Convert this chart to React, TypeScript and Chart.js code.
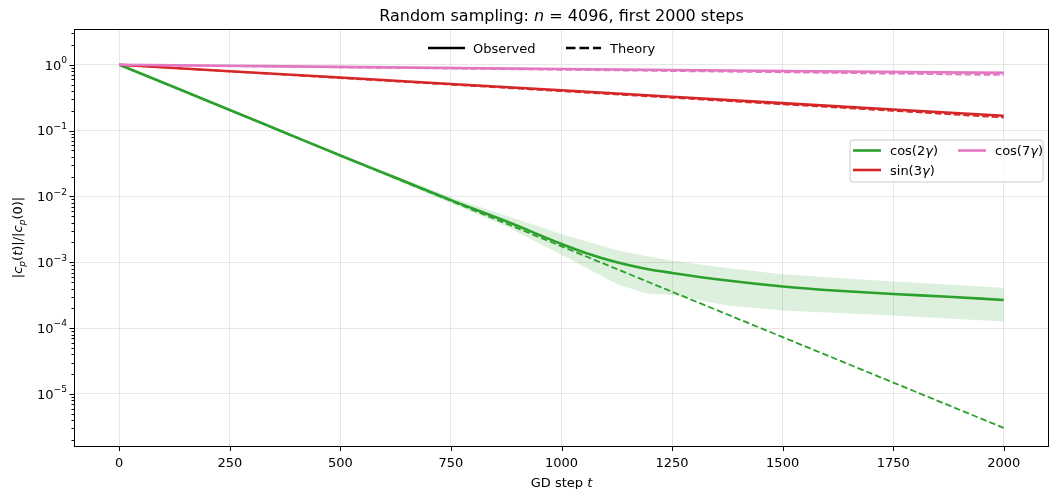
import React, { useEffect, useRef } from "react";
import { Chart, registerables } from "chart.js";

Chart.register(...registerables);

const FONT = '"DejaVu Sans", "Liberation Sans", sans-serif';
const GREEN = "#2ca02c";
const RED = "#d62728";
const PINK = "#e377c2";
const GRID = "rgba(176,176,176,0.3)";

// ---- data ----
const xTickValues = [0, 250, 500, 750, 1000, 1250, 1500, 1750, 2000];
const yDecadeExponents = [-5, -4, -3, -2, -1, 0];

const greenObsSteps = [0, 125, 250, 375, 500, 625, 750, 875, 1000, 1060, 1125, 1190, 1250, 1375, 1500, 1625, 1750, 1875, 2000];
const greenObsValues = [1, 0.455, 0.206, 0.093, 0.042, 0.0192, 0.0088, 0.0042, 0.0019, 0.00135, 0.001, 0.0008, 0.00069, 0.00053, 0.00043, 0.00037, 0.00033, 0.0003, 0.000267];

const greenBandSteps = [0, 250, 500, 750, 875, 1000, 1125, 1190, 1250, 1375, 1500, 1750, 2000];
const greenBandUpper = [1.0, 0.212, 0.044, 0.0097, 0.0051, 0.0027, 0.00152, 0.00125, 0.00106, 0.00082, 0.00066, 0.00051, 0.00041];
const greenBandLower = [1.0, 0.2, 0.04, 0.0079, 0.0035, 0.0013, 0.00047, 0.00034, 0.00032, 0.00022, 0.000186, 0.000155, 0.000126];

const greenTheorySteps = [0, 250, 500, 750, 1000, 1250, 1500, 1750, 2000];
const greenTheoryValues = [1, 0.2046, 0.0418, 0.00855, 0.00175, 0.000357, 0.000073, 0.0000149, 0.00000305];

const redSteps = [0, 250, 500, 750, 1000, 1250, 1500, 1750, 2000];
const redObsValues = [1, 0.8, 0.64, 0.51, 0.41, 0.328, 0.262, 0.21, 0.168];
const redTheoryValues = [1, 0.795, 0.63, 0.5, 0.398, 0.316, 0.251, 0.2, 0.158];

const pinkSteps = [0, 500, 1000, 1500, 2000];
const pinkObsValues = [1, 0.93, 0.865, 0.805, 0.755];
const pinkBandUpper = [1.0, 0.955, 0.895, 0.835, 0.785];
const pinkBandLower = [1.0, 0.905, 0.835, 0.775, 0.725];
const pinkTheoryValues = [1, 0.915, 0.84, 0.77, 0.7];

const modeLegend = [
  { label: ["cos(2", "γ", ")"], color: GREEN },
  { label: ["sin(3", "γ", ")"], color: RED },
  { label: ["cos(7", "γ", ")"], color: PINK },
];

// ---- helpers ----
const pts = (xs: number[], ys: number[]) => xs.map((x, i) => ({ x, y: ys[i] }));

type Seg = { t: string; it?: boolean; sub?: boolean; sup?: boolean };

function segFont(s: Seg, size: number) {
  const fs = s.sub || s.sup ? size * 0.7 : size;
  return `${s.it ? "italic " : ""}${fs}px ${FONT}`;
}

function drawRich(ctx: CanvasRenderingContext2D, segs: Seg[], x: number, y: number, size: number, align: "left" | "center" | "right") {
  let w = 0;
  for (const s of segs) {
    ctx.font = segFont(s, size);
    w += ctx.measureText(s.t).width;
  }
  let cx = align === "left" ? x : align === "center" ? x - w / 2 : x - w;
  ctx.textAlign = "left";
  ctx.textBaseline = "alphabetic";
  for (const s of segs) {
    ctx.font = segFont(s, size);
    const dy = s.sub ? size * 0.22 : s.sup ? -size * 0.5 : 0;
    ctx.fillText(s.t, cx, y + dy);
    cx += ctx.measureText(s.t).width;
  }
}

const isDecade = (v: number) => Math.abs(Math.log10(v) - Math.round(Math.log10(v))) < 1e-9;

const overlayPlugin = {
  id: "overlay",
  afterDraw(chart: any) {
    const { ctx, chartArea: a, scales } = chart;
    const xs = scales.x;
    const ys = scales.y;
    ctx.save();
    ctx.fillStyle = "#000";
    ctx.strokeStyle = "#000";

    // spines
    ctx.lineWidth = 1;
    ctx.strokeRect(a.left - 0.5, a.top + 0.5, a.right - a.left + 1, a.bottom - a.top);

    // x tick marks
    for (const v of xTickValues) {
      const px = Math.round(xs.getPixelForValue(v)) + 0.5;
      ctx.beginPath();
      ctx.moveTo(px, a.bottom + 0.5);
      ctx.lineTo(px, a.bottom + 5);
      ctx.stroke();
    }
    // y tick marks
    for (const t of ys.ticks) {
      const py = Math.round(ys.getPixelForValue(t.value)) + 0.5;
      const len = isDecade(t.value) ? 5 : 3;
      ctx.beginPath();
      ctx.moveTo(a.left - 0.5, py);
      ctx.lineTo(a.left - 0.5 - len, py);
      ctx.stroke();
    }
    // y tick labels
    ctx.fillStyle = "#000";
    for (const e of yDecadeExponents) {
      const py = ys.getPixelForValue(Math.pow(10, e));
      const sup = e === 0 ? "0" : "\u2212" + Math.abs(e);
      drawRich(ctx, [{ t: "10" }, { t: sup, sup: true }], a.left - 8, py + 4.7, 13, "right");
    }

    const cxp = (a.left + a.right) / 2;
    // title
    drawRich(ctx, [{ t: "Random sampling: " }, { t: "n", it: true }, { t: " = 4096, first 2000 steps" }], cxp, 21, 16, "center");
    // x label
    drawRich(ctx, [{ t: "GD step " }, { t: "t", it: true }], cxp, 487, 13, "center");
    // y label
    ctx.save();
    ctx.translate(22, (a.top + a.bottom) / 2);
    ctx.rotate(-Math.PI / 2);
    drawRich(
      ctx,
      [
        { t: "|" }, { t: "c", it: true }, { t: "p", it: true, sub: true }, { t: "(" }, { t: "t", it: true }, { t: ")|/|" },
        { t: "c", it: true }, { t: "p", it: true, sub: true }, { t: "(0)|" },
      ],
      0, 0, 13, "center"
    );
    ctx.restore();

    // top legend (line styles)
    ctx.lineCap = "butt";
    ctx.strokeStyle = "#000";
    ctx.lineWidth = 2.6;
    ctx.setLineDash([]);
    ctx.beginPath();
    ctx.moveTo(428, 48);
    ctx.lineTo(465, 48);
    ctx.stroke();
    drawRich(ctx, [{ t: "Observed" }], 473, 53, 13, "left");
    ctx.setLineDash([9.5, 4]);
    ctx.beginPath();
    ctx.moveTo(566, 48);
    ctx.lineTo(601, 48);
    ctx.stroke();
    ctx.setLineDash([]);
    drawRich(ctx, [{ t: "Theory" }], 610, 53, 13, "left");

    // right legend (modes)
    const bx = 850, by = 140, bw = 193, bh = 42, r = 3;
    ctx.beginPath();
    ctx.moveTo(bx + r, by);
    ctx.arcTo(bx + bw, by, bx + bw, by + bh, r);
    ctx.arcTo(bx + bw, by + bh, bx, by + bh, r);
    ctx.arcTo(bx, by + bh, bx, by, r);
    ctx.arcTo(bx, by, bx + bw, by, r);
    ctx.closePath();
    ctx.fillStyle = "rgba(255,255,255,0.8)";
    ctx.fill();
    ctx.strokeStyle = "#cccccc";
    ctx.lineWidth = 1;
    ctx.stroke();
    const entries = [
      { m: modeLegend[0], x: 853, y: 150.5 },
      { m: modeLegend[1], x: 853, y: 170 },
      { m: modeLegend[2], x: 958, y: 150.5 },
    ];
    for (const en of entries) {
      ctx.strokeStyle = en.m.color;
      ctx.lineWidth = 2.6;
      ctx.beginPath();
      ctx.moveTo(en.x, en.y);
      ctx.lineTo(en.x + 28, en.y);
      ctx.stroke();
      ctx.fillStyle = "#000";
      drawRich(ctx, [{ t: en.m.label[0] }, { t: en.m.label[1], it: true }, { t: en.m.label[2] }], en.x + 37, en.y + 4.6, 13, "left");
    }
    ctx.restore();
  },
};

export default function App() {
  const ref = useRef<HTMLCanvasElement>(null);
  useEffect(() => {
    const solid = (data: any, color: string, order: number, smooth = false) => ({
      data,
      borderColor: color,
      backgroundColor: color,
      borderWidth: 2.6,
      pointRadius: 0,
      fill: false,
      tension: smooth ? 0.4 : 0,
      cubicInterpolationMode: smooth ? "monotone" : "default",
      order,
    });
    const dashed = (data: any, color: string, order: number) => ({
      data,
      borderColor: color,
      backgroundColor: color,
      borderWidth: 1.8,
      borderDash: [6.5, 3],
      pointRadius: 0,
      fill: false,
      tension: 0,
      order,
    });
    const bandUpper = (data: any, color: string, order: number) => ({
      data,
      borderWidth: 0,
      borderColor: "rgba(0,0,0,0)",
      backgroundColor: color,
      pointRadius: 0,
      fill: "+1",
      tension: 0,
      order,
    });
    const bandLower = (data: any, order: number) => ({
      data,
      borderWidth: 0,
      borderColor: "rgba(0,0,0,0)",
      pointRadius: 0,
      fill: false,
      tension: 0,
      order,
    });

    const chart = new Chart(ref.current!, {
      type: "line",
      data: {
        datasets: [
          dashed(pts(pinkSteps, pinkTheoryValues), PINK, 1),
          solid(pts(pinkSteps, pinkObsValues), PINK, 2),
          bandUpper(pts(pinkSteps, pinkBandUpper), "rgba(227,119,194,0.2)", 3),
          bandLower(pts(pinkSteps, pinkBandLower), 4),
          dashed(pts(redSteps, redTheoryValues), RED, 5),
          solid(pts(redSteps, redObsValues), RED, 6),
          dashed(pts(greenTheorySteps, greenTheoryValues), GREEN, 7),
          solid(pts(greenObsSteps, greenObsValues), GREEN, 8, true),
          bandUpper(pts(greenBandSteps, greenBandUpper), "rgba(44,160,44,0.16)", 9),
          bandLower(pts(greenBandSteps, greenBandLower), 10),
        ] as any,
      },
      options: {
        animation: false,
        responsive: false,
        devicePixelRatio: 1,
        layout: { padding: { top: 29, right: 1, left: 0, bottom: 0 } },
        plugins: {
          legend: { display: false },
          title: { display: false },
          tooltip: { enabled: false },
        },
        scales: {
          x: {
            type: "linear",
            min: -100,
            max: 2100,
            afterBuildTicks: (s: any) => {
              s.ticks = xTickValues.map((v) => ({ value: v }));
            },
            afterFit: (s: any) => {
              s.height = 43;
            },
            ticks: {
              autoSkip: false,
              maxRotation: 0,
              padding: 10,
              color: "#000",
              font: { family: FONT, size: 13 },
              callback: (v: any) => String(v),
            },
            grid: { color: GRID, lineWidth: 1, drawTicks: false },
            border: { display: false },
          },
          y: {
            type: "logarithmic",
            min: 1.62e-6,
            max: 3.5,
            afterBuildTicks: (s: any) => {
              const t: any[] = [];
              for (let e = -6; e <= 0; e++) {
                for (let m = 1; m <= 9; m++) {
                  const v = m * Math.pow(10, e);
                  if (v >= 1.62e-6 && v <= 3.5) t.push({ value: v, major: m === 1 });
                }
              }
              s.ticks = t;
            },
            afterFit: (s: any) => {
              s.width = 75;
            },
            ticks: { display: false },
            grid: {
              drawTicks: false,
              lineWidth: 1,
              color: (c: any) => (c.tick && isDecade(c.tick.value) ? GRID : "rgba(0,0,0,0)"),
            },
            border: { display: false },
          },
        },
      } as any,
      plugins: [overlayPlugin],
    });
    return () => chart.destroy();
  }, []);
  return (
    <div style={{ position: "absolute", left: 0, top: 0, width: 1049, height: 489, background: "#fff" }}>
      <canvas ref={ref} width={1049} height={489} style={{ display: "block", width: 1049, height: 489 }} />
    </div>
  );
}
